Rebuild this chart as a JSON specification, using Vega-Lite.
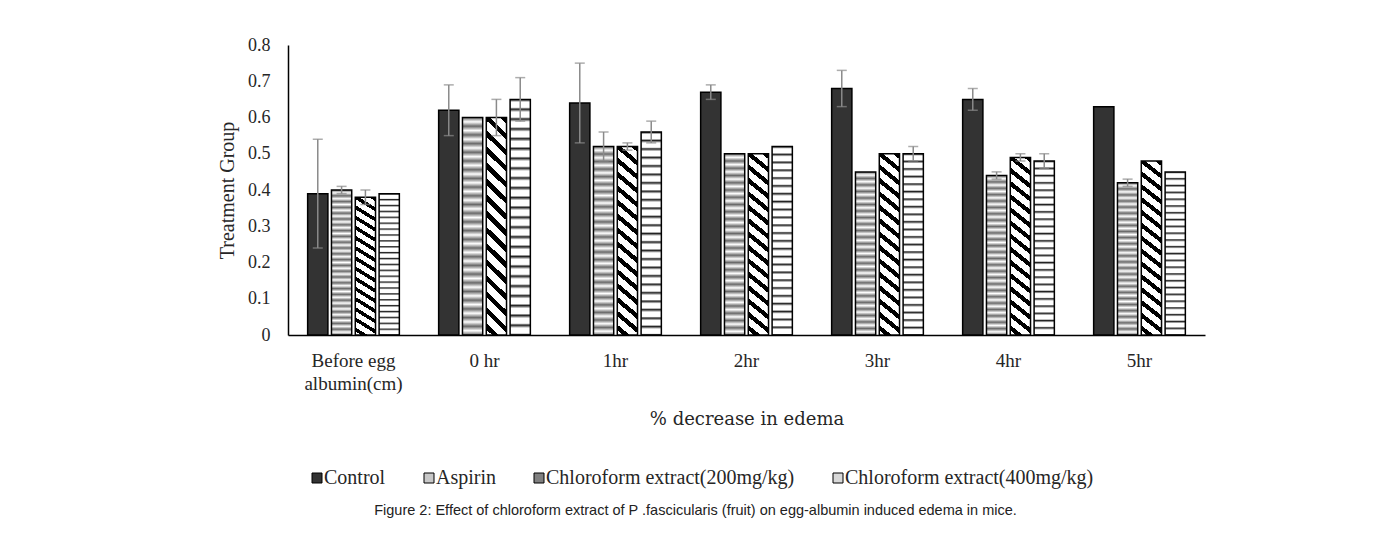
{
  "$schema": "https://vega.github.io/schema/vega-lite/v6.json",
  "autosize": {"type": "none"},
  "padding": {"left": 288, "top": 45, "right": 192, "bottom": 204},
  "width": 917,
  "height": 290,
  "background": "white",
  "config": {
    "view": {"stroke": null}
  },
  "title": {
    "text": "Figure 2: Effect of chloroform extract of P .fascicularis (fruit) on egg-albumin induced edema in mice.",
    "orient": "bottom",
    "anchor": "middle",
    "font": "Liberation Sans",
    "fontSize": 14.5,
    "fontWeight": "normal",
    "color": "#222222",
    "offset": 16,
    "dx": -51
  },
  "data": {
    "values": [
      {"time": "Before egg albumin(cm)", "group": "Control", "value": 0.39, "lo": 0.24, "hi": 0.54},
      {"time": "Before egg albumin(cm)", "group": "Aspirin", "value": 0.40, "lo": 0.39, "hi": 0.41},
      {"time": "Before egg albumin(cm)", "group": "Chloroform extract(200mg/kg)", "value": 0.38, "lo": 0.36, "hi": 0.40},
      {"time": "Before egg albumin(cm)", "group": "Chloroform extract(400mg/kg)", "value": 0.39, "lo": null, "hi": null},
      {"time": "0 hr", "group": "Control", "value": 0.62, "lo": 0.55, "hi": 0.69},
      {"time": "0 hr", "group": "Aspirin", "value": 0.60, "lo": null, "hi": null},
      {"time": "0 hr", "group": "Chloroform extract(200mg/kg)", "value": 0.60, "lo": 0.55, "hi": 0.65},
      {"time": "0 hr", "group": "Chloroform extract(400mg/kg)", "value": 0.65, "lo": 0.59, "hi": 0.71},
      {"time": "1hr", "group": "Control", "value": 0.64, "lo": 0.53, "hi": 0.75},
      {"time": "1hr", "group": "Aspirin", "value": 0.52, "lo": 0.48, "hi": 0.56},
      {"time": "1hr", "group": "Chloroform extract(200mg/kg)", "value": 0.52, "lo": 0.51, "hi": 0.53},
      {"time": "1hr", "group": "Chloroform extract(400mg/kg)", "value": 0.56, "lo": 0.53, "hi": 0.59},
      {"time": "2hr", "group": "Control", "value": 0.67, "lo": 0.65, "hi": 0.69},
      {"time": "2hr", "group": "Aspirin", "value": 0.50, "lo": null, "hi": null},
      {"time": "2hr", "group": "Chloroform extract(200mg/kg)", "value": 0.50, "lo": null, "hi": null},
      {"time": "2hr", "group": "Chloroform extract(400mg/kg)", "value": 0.52, "lo": null, "hi": null},
      {"time": "3hr", "group": "Control", "value": 0.68, "lo": 0.63, "hi": 0.73},
      {"time": "3hr", "group": "Aspirin", "value": 0.45, "lo": null, "hi": null},
      {"time": "3hr", "group": "Chloroform extract(200mg/kg)", "value": 0.50, "lo": null, "hi": null},
      {"time": "3hr", "group": "Chloroform extract(400mg/kg)", "value": 0.50, "lo": 0.48, "hi": 0.52},
      {"time": "4hr", "group": "Control", "value": 0.65, "lo": 0.62, "hi": 0.68},
      {"time": "4hr", "group": "Aspirin", "value": 0.44, "lo": 0.43, "hi": 0.45},
      {"time": "4hr", "group": "Chloroform extract(200mg/kg)", "value": 0.49, "lo": 0.48, "hi": 0.50},
      {"time": "4hr", "group": "Chloroform extract(400mg/kg)", "value": 0.48, "lo": 0.46, "hi": 0.50},
      {"time": "5hr", "group": "Control", "value": 0.63, "lo": null, "hi": null},
      {"time": "5hr", "group": "Aspirin", "value": 0.42, "lo": 0.41, "hi": 0.43},
      {"time": "5hr", "group": "Chloroform extract(200mg/kg)", "value": 0.48, "lo": null, "hi": null},
      {"time": "5hr", "group": "Chloroform extract(400mg/kg)", "value": 0.45, "lo": null, "hi": null}
    ]
  },
  "resolve": {"scale": {"y": "shared"}, "axis": {"y": "independent"}},
  "encoding": {
    "x": {
      "field": "time",
      "type": "nominal",
      "sort": null,
      "scale": {"paddingInner": 0.3, "paddingOuter": 0.15},
      "axis": {
        "title": "% decrease in edema",
        "titleFont": "DejaVu Serif",
        "titleFontSize": 18,
        "titleFontWeight": "normal",
        "titleColor": "#262626",
        "titlePadding": 17,
        "labelAngle": 0,
        "labelFont": "Liberation Serif",
        "labelFontSize": 19,
        "labelColor": "#262626",
        "labelPadding": 16,
        "labelLineHeight": 23,
        "labelLimit": 300,
        "labelExpr": "datum.value == 'Before egg albumin(cm)' ? ['Before egg', 'albumin(cm)'] : datum.value",
        "ticks": false,
        "domainColor": "#000000",
        "domainWidth": 1.5,
        "grid": false
      }
    },
    "xOffset": {"field": "group", "type": "nominal", "sort": null, "scale": {"paddingInner": 0.15}}
  },
  "layer": [
    {
      "mark": {"type": "bar", "stroke": "#000000", "strokeWidth": 1.5},
      "encoding": {
        "y": {
          "field": "value",
          "type": "quantitative",
          "title": "Treatment Group",
          "scale": {"domain": [0, 0.8], "nice": false},
          "axis": {
            "values": [0, 0.1, 0.2, 0.3, 0.4, 0.5, 0.6, 0.7, 0.8],
            "labelOverlap": false,
            "labelExpr": "format(datum.value, '.1~f')",
            "labelFont": "Liberation Serif",
            "labelFontSize": 18,
            "labelColor": "#262626",
            "labelPadding": 18,
            "ticks": false,
            "grid": false,
            "domainColor": "#000000",
            "domainWidth": 1.5,
            "titleFont": "Liberation Serif",
            "titleFontSize": 20,
            "titleFontWeight": "normal",
            "titleColor": "#262626",
            "titlePadding": 10
          }
        },
        "fill": {
          "field": "group",
          "type": "nominal",
          "sort": null,
          "scale": {
            "domain": ["Control", "Aspirin", "Chloroform extract(200mg/kg)", "Chloroform extract(400mg/kg)"],
            "range": ["#333333", "#c8c8c8", "#808080", "#d8d8d8"]
          },
          "legend": {
            "orient": "none",
            "legendX": 19,
            "legendY": 423,
            "direction": "horizontal",
            "columns": 4,
            "columnPadding": 33,
            "title": null,
            "symbolType": "square",
            "symbolSize": 100,
            "symbolStrokeColor": "#000000",
            "symbolStrokeWidth": 1,
            "labelFont": "Liberation Serif",
            "labelFontSize": 20,
            "labelColor": "#262626",
            "labelOffset": -3,
            "labelLimit": 400
          },
          "condition": [
            {
              "test": "datum.group === 'Aspirin'",
              "value": {
                "gradient": "linear", "x1": 0, "y1": 0, "x2": 0, "y2": 1,
                "stops": [
                  {"offset": 0.00, "color": "#6a6a6a"}, {"offset": 0.02, "color": "#ffffff"},
                  {"offset": 0.04, "color": "#6a6a6a"}, {"offset": 0.06, "color": "#ffffff"},
                  {"offset": 0.08, "color": "#6a6a6a"}, {"offset": 0.10, "color": "#ffffff"},
                  {"offset": 0.12, "color": "#6a6a6a"}, {"offset": 0.14, "color": "#ffffff"},
                  {"offset": 0.16, "color": "#6a6a6a"}, {"offset": 0.18, "color": "#ffffff"},
                  {"offset": 0.20, "color": "#6a6a6a"}, {"offset": 0.22, "color": "#ffffff"},
                  {"offset": 0.24, "color": "#6a6a6a"}, {"offset": 0.26, "color": "#ffffff"},
                  {"offset": 0.28, "color": "#6a6a6a"}, {"offset": 0.30, "color": "#ffffff"},
                  {"offset": 0.32, "color": "#6a6a6a"}, {"offset": 0.34, "color": "#ffffff"},
                  {"offset": 0.36, "color": "#6a6a6a"}, {"offset": 0.38, "color": "#ffffff"},
                  {"offset": 0.40, "color": "#6a6a6a"}, {"offset": 0.42, "color": "#ffffff"},
                  {"offset": 0.44, "color": "#6a6a6a"}, {"offset": 0.46, "color": "#ffffff"},
                  {"offset": 0.48, "color": "#6a6a6a"}, {"offset": 0.50, "color": "#ffffff"},
                  {"offset": 0.52, "color": "#6a6a6a"}, {"offset": 0.54, "color": "#ffffff"},
                  {"offset": 0.56, "color": "#6a6a6a"}, {"offset": 0.58, "color": "#ffffff"},
                  {"offset": 0.60, "color": "#6a6a6a"}, {"offset": 0.62, "color": "#ffffff"},
                  {"offset": 0.64, "color": "#6a6a6a"}, {"offset": 0.66, "color": "#ffffff"},
                  {"offset": 0.68, "color": "#6a6a6a"}, {"offset": 0.70, "color": "#ffffff"},
                  {"offset": 0.72, "color": "#6a6a6a"}, {"offset": 0.74, "color": "#ffffff"},
                  {"offset": 0.76, "color": "#6a6a6a"}, {"offset": 0.78, "color": "#ffffff"},
                  {"offset": 0.80, "color": "#6a6a6a"}, {"offset": 0.82, "color": "#ffffff"},
                  {"offset": 0.84, "color": "#6a6a6a"}, {"offset": 0.86, "color": "#ffffff"},
                  {"offset": 0.88, "color": "#6a6a6a"}, {"offset": 0.90, "color": "#ffffff"},
                  {"offset": 0.92, "color": "#6a6a6a"}, {"offset": 0.94, "color": "#ffffff"},
                  {"offset": 0.96, "color": "#6a6a6a"}, {"offset": 0.98, "color": "#ffffff"},
                  {"offset": 1.00, "color": "#6a6a6a"}
                ]
              }
            },
            {
              "test": "datum.group === 'Chloroform extract(200mg/kg)'",
              "value": {
                "gradient": "linear", "x1": 1, "y1": 0, "x2": 0.9, "y2": 1.1,
                "stops": [
                  {"offset": 0.0, "color": "#000000"}, {"offset": 0.027, "color": "#000000"}, {"offset": 0.027, "color": "#ffffff"}, {"offset": 0.0667, "color": "#ffffff"},
                  {"offset": 0.0667, "color": "#000000"}, {"offset": 0.0937, "color": "#000000"}, {"offset": 0.0937, "color": "#ffffff"}, {"offset": 0.1333, "color": "#ffffff"},
                  {"offset": 0.1333, "color": "#000000"}, {"offset": 0.1603, "color": "#000000"}, {"offset": 0.1603, "color": "#ffffff"}, {"offset": 0.2, "color": "#ffffff"},
                  {"offset": 0.2, "color": "#000000"}, {"offset": 0.227, "color": "#000000"}, {"offset": 0.227, "color": "#ffffff"}, {"offset": 0.2667, "color": "#ffffff"},
                  {"offset": 0.2667, "color": "#000000"}, {"offset": 0.2937, "color": "#000000"}, {"offset": 0.2937, "color": "#ffffff"}, {"offset": 0.3333, "color": "#ffffff"},
                  {"offset": 0.3333, "color": "#000000"}, {"offset": 0.3603, "color": "#000000"}, {"offset": 0.3603, "color": "#ffffff"}, {"offset": 0.4, "color": "#ffffff"},
                  {"offset": 0.4, "color": "#000000"}, {"offset": 0.427, "color": "#000000"}, {"offset": 0.427, "color": "#ffffff"}, {"offset": 0.4667, "color": "#ffffff"},
                  {"offset": 0.4667, "color": "#000000"}, {"offset": 0.4937, "color": "#000000"}, {"offset": 0.4937, "color": "#ffffff"}, {"offset": 0.5333, "color": "#ffffff"},
                  {"offset": 0.5333, "color": "#000000"}, {"offset": 0.5603, "color": "#000000"}, {"offset": 0.5603, "color": "#ffffff"}, {"offset": 0.6, "color": "#ffffff"},
                  {"offset": 0.6, "color": "#000000"}, {"offset": 0.627, "color": "#000000"}, {"offset": 0.627, "color": "#ffffff"}, {"offset": 0.6667, "color": "#ffffff"},
                  {"offset": 0.6667, "color": "#000000"}, {"offset": 0.6937, "color": "#000000"}, {"offset": 0.6937, "color": "#ffffff"}, {"offset": 0.7333, "color": "#ffffff"},
                  {"offset": 0.7333, "color": "#000000"}, {"offset": 0.7603, "color": "#000000"}, {"offset": 0.7603, "color": "#ffffff"}, {"offset": 0.8, "color": "#ffffff"},
                  {"offset": 0.8, "color": "#000000"}, {"offset": 0.827, "color": "#000000"}, {"offset": 0.827, "color": "#ffffff"}, {"offset": 0.8667, "color": "#ffffff"},
                  {"offset": 0.8667, "color": "#000000"}, {"offset": 0.8937, "color": "#000000"}, {"offset": 0.8937, "color": "#ffffff"}, {"offset": 0.9333, "color": "#ffffff"},
                  {"offset": 0.9333, "color": "#000000"}, {"offset": 0.9603, "color": "#000000"}, {"offset": 0.9603, "color": "#ffffff"}, {"offset": 1.0, "color": "#ffffff"}
                ]
              }
            },
            {
              "test": "datum.group === 'Chloroform extract(400mg/kg)'",
              "value": {
                "gradient": "linear", "x1": 0, "y1": 0, "x2": 0, "y2": 1,
                "stops": [
                  {"offset": 0.0, "color": "#222222"}, {"offset": 0.012, "color": "#ffffff"}, {"offset": 0.0337, "color": "#ffffff"},
                  {"offset": 0.0417, "color": "#222222"}, {"offset": 0.0537, "color": "#ffffff"}, {"offset": 0.0753, "color": "#ffffff"},
                  {"offset": 0.0833, "color": "#222222"}, {"offset": 0.0953, "color": "#ffffff"}, {"offset": 0.117, "color": "#ffffff"},
                  {"offset": 0.125, "color": "#222222"}, {"offset": 0.137, "color": "#ffffff"}, {"offset": 0.1587, "color": "#ffffff"},
                  {"offset": 0.1667, "color": "#222222"}, {"offset": 0.1787, "color": "#ffffff"}, {"offset": 0.2003, "color": "#ffffff"},
                  {"offset": 0.2083, "color": "#222222"}, {"offset": 0.2203, "color": "#ffffff"}, {"offset": 0.242, "color": "#ffffff"},
                  {"offset": 0.25, "color": "#222222"}, {"offset": 0.262, "color": "#ffffff"}, {"offset": 0.2837, "color": "#ffffff"},
                  {"offset": 0.2917, "color": "#222222"}, {"offset": 0.3037, "color": "#ffffff"}, {"offset": 0.3253, "color": "#ffffff"},
                  {"offset": 0.3333, "color": "#222222"}, {"offset": 0.3453, "color": "#ffffff"}, {"offset": 0.367, "color": "#ffffff"},
                  {"offset": 0.375, "color": "#222222"}, {"offset": 0.387, "color": "#ffffff"}, {"offset": 0.4087, "color": "#ffffff"},
                  {"offset": 0.4167, "color": "#222222"}, {"offset": 0.4287, "color": "#ffffff"}, {"offset": 0.4503, "color": "#ffffff"},
                  {"offset": 0.4583, "color": "#222222"}, {"offset": 0.4703, "color": "#ffffff"}, {"offset": 0.492, "color": "#ffffff"},
                  {"offset": 0.5, "color": "#222222"}, {"offset": 0.512, "color": "#ffffff"}, {"offset": 0.5337, "color": "#ffffff"},
                  {"offset": 0.5417, "color": "#222222"}, {"offset": 0.5537, "color": "#ffffff"}, {"offset": 0.5753, "color": "#ffffff"},
                  {"offset": 0.5833, "color": "#222222"}, {"offset": 0.5953, "color": "#ffffff"}, {"offset": 0.617, "color": "#ffffff"},
                  {"offset": 0.625, "color": "#222222"}, {"offset": 0.637, "color": "#ffffff"}, {"offset": 0.6587, "color": "#ffffff"},
                  {"offset": 0.6667, "color": "#222222"}, {"offset": 0.6787, "color": "#ffffff"}, {"offset": 0.7003, "color": "#ffffff"},
                  {"offset": 0.7083, "color": "#222222"}, {"offset": 0.7203, "color": "#ffffff"}, {"offset": 0.742, "color": "#ffffff"},
                  {"offset": 0.75, "color": "#222222"}, {"offset": 0.762, "color": "#ffffff"}, {"offset": 0.7837, "color": "#ffffff"},
                  {"offset": 0.7917, "color": "#222222"}, {"offset": 0.8037, "color": "#ffffff"}, {"offset": 0.8253, "color": "#ffffff"},
                  {"offset": 0.8333, "color": "#222222"}, {"offset": 0.8453, "color": "#ffffff"}, {"offset": 0.867, "color": "#ffffff"},
                  {"offset": 0.875, "color": "#222222"}, {"offset": 0.887, "color": "#ffffff"}, {"offset": 0.9087, "color": "#ffffff"},
                  {"offset": 0.9167, "color": "#222222"}, {"offset": 0.9287, "color": "#ffffff"}, {"offset": 0.9503, "color": "#ffffff"},
                  {"offset": 0.9583, "color": "#222222"}, {"offset": 0.9703, "color": "#ffffff"}, {"offset": 0.992, "color": "#ffffff"},
                  {"offset": 1.0, "color": "#222222"}
                ]
              }
            }
          ]
        }
      }
    },
    {
      "transform": [{"filter": "datum.hi != null"}],
      "mark": {"type": "rule", "color": "#8a8a8a", "strokeWidth": 1.5},
      "encoding": {
        "y": {"field": "lo", "type": "quantitative", "axis": null},
        "y2": {"field": "hi"}
      }
    },
    {
      "transform": [{"filter": "datum.hi != null"}],
      "mark": {"type": "tick", "color": "#8a8a8a", "size": 10, "thickness": 1.5},
      "encoding": {
        "y": {"field": "hi", "type": "quantitative", "axis": null}
      }
    },
    {
      "transform": [{"filter": "datum.lo != null"}],
      "mark": {"type": "tick", "color": "#8a8a8a", "size": 10, "thickness": 1.5},
      "encoding": {
        "y": {"field": "lo", "type": "quantitative", "axis": null}
      }
    }
  ]
}
